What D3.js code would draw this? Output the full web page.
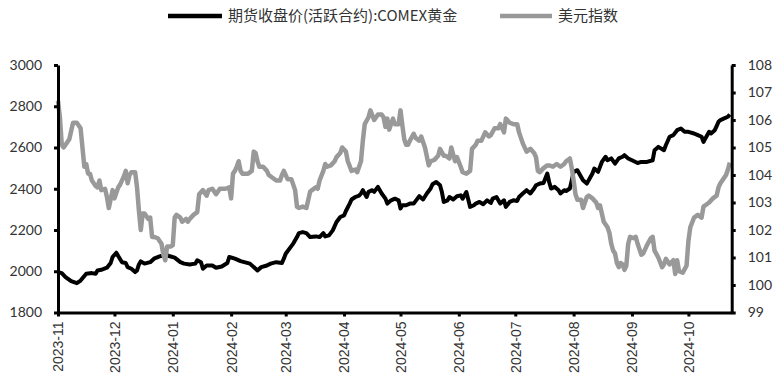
<!DOCTYPE html>
<html>
<head>
<meta charset="utf-8">
<script src="https://cdn.jsdelivr.net/npm/d3@7/dist/d3.min.js"></script>
<style>
  body { margin: 0; background: #fff; }
</style>
</head>
<body>
<div id="chart"></div>
<script>
// days counted from 2023-11-01
const startDate = new Date(2023, 10, 1);
const endDate = new Date(2024, 9, 24);

const goldDay = [0,2,4,7,10,12,15,18,20,21,23,26,28,29,31,32,34,36,37,39,41,42,43,44,46,49,51,54,57,59,62,65,67,70,73,74,76,77,79,82,84,87,90,91,94,97,99,102,105,106,108,111,113,116,119,120,121,123,125,127,128,130,132,134,137,139,141,142,144,146,148,150,152,153,155,156,158,160,161,162,164,165,167,168,170,172,174,175,177,179,181,182,183,185,187,189,191,192,194,196,198,199,201,203,204,205,207,208,210,212,214,215,217,219,221,222,224,226,228,230,231,233,235,237,238,240,242,244,245,247,249,251,253,254,256,258,260,261,262,264,266,267,269,270,272,273,274,276,278,279,281,282,284,285,287,289,291,292,294,296,298,300,301,303,305,308,310,313,316,317,319,322,323,325,327,329,331,333,335,338,340,342,343,344,346,347,349,350,351,352,354,356,357];
const goldValue = [1996,1991,1972,1952,1942,1955,1988,1991,1988,2004,2007,2017,2040,2069,2090,2074,2044,2040,2020,2012,1996,2004,2033,2048,2037,2044,2061,2072,2080,2074,2066,2044,2037,2033,2037,2053,2044,2012,2028,2028,2017,2023,2040,2069,2061,2049,2044,2037,2012,2004,2020,2028,2037,2044,2040,2061,2085,2110,2134,2166,2185,2190,2185,2166,2169,2166,2185,2169,2174,2198,2239,2263,2271,2292,2328,2348,2360,2367,2377,2393,2360,2385,2393,2385,2409,2377,2352,2328,2344,2352,2344,2304,2320,2320,2328,2328,2352,2364,2348,2377,2401,2422,2433,2417,2384,2336,2344,2360,2348,2364,2368,2352,2384,2312,2320,2328,2336,2325,2344,2331,2352,2360,2328,2344,2312,2336,2344,2341,2360,2377,2393,2377,2401,2417,2425,2428,2474,2433,2401,2409,2393,2377,2393,2389,2401,2440,2482,2490,2457,2441,2425,2441,2474,2498,2482,2530,2555,2538,2547,2522,2547,2555,2563,2547,2538,2525,2530,2530,2538,2587,2603,2587,2611,2652,2660,2684,2692,2676,2676,2668,2660,2652,2627,2644,2676,2668,2684,2704,2725,2733,2741,2749,2760];

const dxyDay = [0,1,2,3,5,6,8,10,12,13,14,15,16,17,18,20,21,22,23,25,26,27,29,30,32,33,35,36,37,38,39,41,42,43,44,45,46,48,49,50,51,53,55,56,57,58,60,61,62,63,65,66,68,69,70,72,74,75,77,79,80,82,84,86,88,89,91,92,93,94,95,96,97,98,101,103,104,105,106,107,109,111,112,114,116,118,119,120,122,124,126,127,128,130,132,133,134,135,137,138,139,141,142,143,145,147,148,150,151,153,154,156,158,159,161,162,163,165,166,168,170,172,173,174,175,176,177,178,179,181,182,183,184,185,186,187,189,190,192,193,195,197,198,200,202,203,205,206,208,209,211,212,214,215,217,219,220,222,223,225,227,229,230,232,234,235,237,238,240,242,244,245,247,249,251,253,254,255,256,258,260,261,263,265,267,269,270,272,273,274,275,276,278,279,281,282,284,286,287,288,289,290,292,293,294,295,296,297,298,299,300,301,302,303,304,306,307,308,310,311,313,315,316,317,319,321,322,323,325,327,328,329,330,332,334,335,336,338,340,342,343,344,346,348,350,351,352,354,355,356,357];
const dxyValue = [106.7,106.1,105.1,105.0,105.2,105.3,105.9,105.9,105.7,105.0,104.3,104.4,104.05,104.05,103.8,103.6,103.55,103.8,103.45,103.5,103.2,102.8,103.45,103.15,103.55,103.65,103.95,104.15,103.7,104.0,104.1,104.1,103.55,102.7,102.0,102.6,102.6,102.4,102.45,101.75,101.75,101.7,101.5,101.1,100.9,101.4,101.4,101.45,102.45,102.55,102.45,102.3,102.4,102.3,102.4,102.55,102.65,103.3,103.45,103.25,103.45,103.5,103.3,103.5,103.5,103.5,103.55,103.15,104.05,104.15,104.3,104.5,104.15,104.05,104.05,104.15,104.85,104.8,104.5,104.3,104.3,104.15,104.0,103.9,103.8,103.8,104.0,104.15,103.85,103.85,103.45,102.85,102.8,102.85,102.8,103.1,103.4,103.45,103.55,103.5,103.8,104.15,104.4,104.3,104.35,104.5,104.65,104.8,105.0,104.85,104.5,104.15,104.2,104.1,104.5,105.25,105.85,106.1,106.35,106.0,106.2,106.2,106.1,105.75,106.05,105.65,105.85,106.05,105.85,105.85,106.35,105.8,105.3,105.1,105.1,105.25,105.5,105.35,105.25,105.4,105.0,104.35,104.5,104.55,104.7,104.95,104.7,104.7,104.6,105.0,104.5,104.65,104.3,104.1,104.05,104.15,104.95,105.1,105.25,105.25,105.55,105.4,105.45,105.7,105.7,105.85,105.55,106.05,105.9,105.85,105.85,105.55,105.15,104.85,104.95,104.8,104.65,104.15,104.1,104.25,104.35,104.35,104.3,104.4,104.3,104.4,104.5,104.6,104.25,103.8,103.3,103.1,103.1,102.8,103.2,103.25,103.15,103.0,102.8,102.9,102.6,102.3,102.1,101.9,101.5,101.25,101.15,100.8,100.65,100.8,100.75,100.55,100.7,101.5,101.75,101.7,101.75,101.5,101.1,101.15,101.45,101.7,101.75,101.25,101.0,100.65,100.75,100.95,100.75,100.9,100.4,100.9,100.5,100.45,100.7,101.6,102.1,102.45,102.55,102.45,102.85,102.9,103.0,103.15,103.25,103.55,103.7,103.9,104.0,104.2,104.45];

const monthTicks = ['2023-11','2023-12','2024-01','2024-02','2024-03','2024-04','2024-05','2024-06','2024-07','2024-08','2024-09','2024-10'];
const leftTicks = [1800, 2000, 2200, 2400, 2600, 2800, 3000];
const rightTicks = [99, 100, 101, 102, 103, 104, 105, 106, 107, 108];
const seriesNames = ['期货收盘价(活跃合约):COMEX黄金', '美元指数'];
const seriesColors = ['#000000', '#999999'];

const width = 782, height = 385;
const margin = { top: 65, right: 50.3, bottom: 72.5, left: 58 };
const innerW = width - margin.left - margin.right;
const innerH = height - margin.top - margin.bottom;

const gold = goldDay.map((d, i) => ({ date: d3.timeDay.offset(startDate, d), value: goldValue[i] }));
const dxy = dxyDay.map((d, i) => ({ date: d3.timeDay.offset(startDate, d), value: dxyValue[i] }));

const x = d3.scaleTime().domain([startDate, endDate]).range([0, innerW]);
const yLeft = d3.scaleLinear().domain([1800, 3000]).range([innerH, 0]);
const yRight = d3.scaleLinear().domain([99, 108]).range([innerH, 0]);

const svg = d3.select('#chart').append('svg')
  .attr('width', width)
  .attr('height', height);

const g = svg.append('g')
  .attr('transform', 'translate(' + margin.left + ',' + margin.top + ')');

// lines
const lineLeft = d3.line().x(d => x(d.date)).y(d => yLeft(d.value));
const lineRight = d3.line().x(d => x(d.date)).y(d => yRight(d.value));

g.append('path')
  .datum(gold)
  .attr('d', lineLeft)
  .attr('fill', 'none')
  .attr('stroke', seriesColors[0])
  .attr('stroke-width', 4)
  .attr('stroke-linejoin', 'round');

g.append('path')
  .datum(dxy)
  .attr('d', lineRight)
  .attr('fill', 'none')
  .attr('stroke', seriesColors[1])
  .attr('stroke-width', 4.5)
  .attr('stroke-linejoin', 'round');

// axes
const tickFont = 'Lato, "Liberation Sans", sans-serif';

const left = g.append('g')
  .call(d3.axisLeft(yLeft).tickValues(leftTicks).tickSize(4).tickSizeOuter(0).tickPadding(12).tickFormat(d3.format('d')));

const right = g.append('g')
  .attr('transform', 'translate(' + innerW + ',0)')
  .call(d3.axisRight(yRight).tickValues(rightTicks).tickSize(4).tickSizeOuter(0).tickPadding(12));

const bottom = g.append('g')
  .attr('transform', 'translate(0,' + innerH + ')')
  .call(d3.axisBottom(x)
    .tickValues(monthTicks.map(m => d3.timeParse('%Y-%m')(m)))
    .tickSize(4).tickSizeOuter(0)
    .tickFormat(d3.timeFormat('%Y-%m')));

[left, right, bottom].forEach(ax => {
  ax.select('.domain').attr('stroke', '#000').attr('stroke-width', 3);
  ax.selectAll('.tick line').attr('stroke', '#000').attr('stroke-width', 3);
});

[left, right].forEach(ax => {
  ax.selectAll('text')
    .style('font-family', tickFont)
    .style('font-size', '14px')
    .attr('fill', '#333');
});

bottom.selectAll('text')
  .style('font-family', '"Liberation Sans", Arial, sans-serif')
  .style('font-size', '14px')
  .attr('fill', '#333')
  .style('text-anchor', 'end')
  .attr('transform', 'rotate(-90)')
  .attr('x', -9)
  .attr('y', 0)
  .attr('dy', '0.35em');

// legend
const legend = svg.append('g');
const legendItems = [
  { name: seriesNames[0], color: seriesColors[0], x0: 168, x1: 222 },
  { name: seriesNames[1], color: seriesColors[1], x0: 500, x1: 552 }
];
legendItems.forEach(item => {
  legend.append('line')
    .attr('x1', item.x0).attr('x2', item.x1)
    .attr('y1', 16).attr('y2', 16)
    .attr('stroke', item.color)
    .attr('stroke-width', 4.5);
  legend.append('text')
    .attr('x', item.x1 + 6)
    .attr('y', 16)
    .attr('dy', '0.35em')
    .style('font-family', '"Noto Sans CJK SC", sans-serif')
    .style('font-size', '15px')
    .attr('fill', '#333')
    .text(item.name);
});
</script>
</body>
</html>
